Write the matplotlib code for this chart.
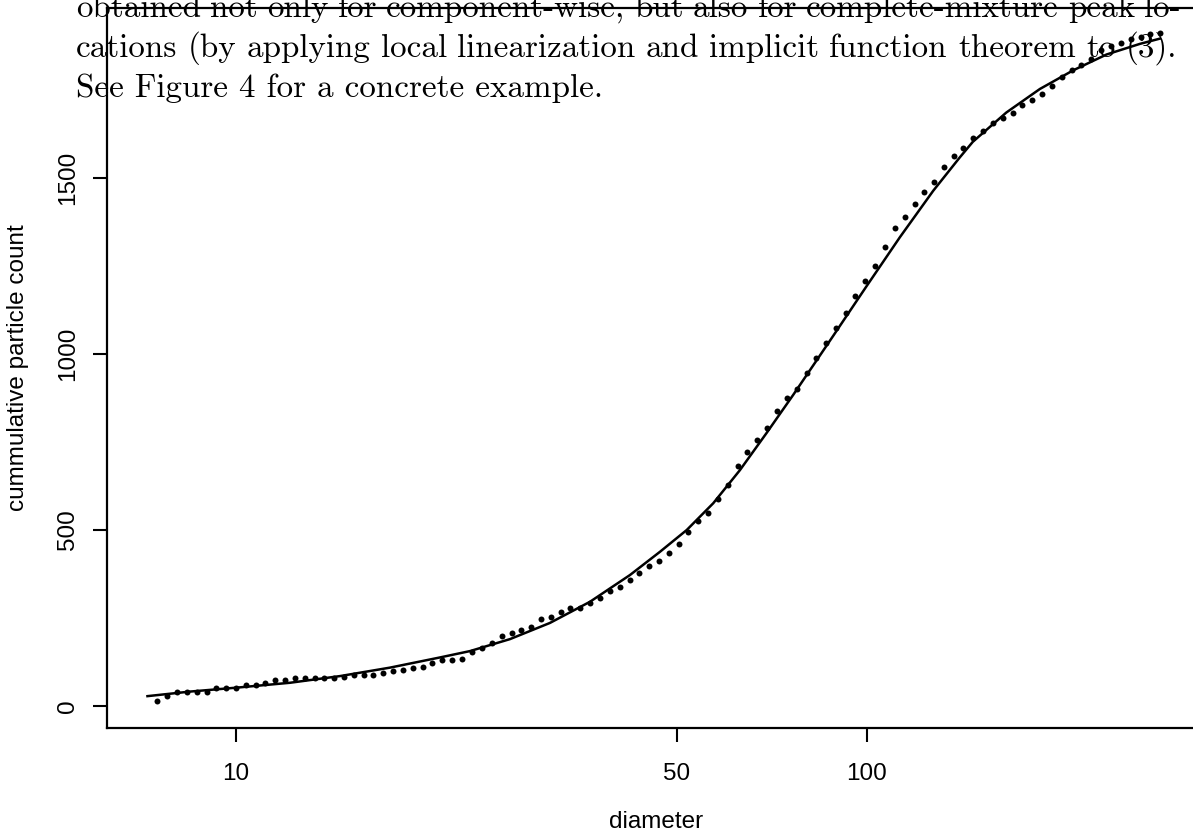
import matplotlib
matplotlib.use("Agg")
import matplotlib.pyplot as plt

# observed cumulative counts (dots)
diameter = [7.50, 7.78, 8.07, 8.36, 8.66, 8.99, 9.31, 9.64, 10.0, 10.36,
            10.75, 11.13, 11.54, 11.97, 12.40, 12.85, 13.33, 13.80, 14.32, 14.83,
            15.38, 15.93, 16.51, 17.12, 17.75, 18.39, 19.06, 19.76, 20.47, 21.23,
            22.02, 22.84, 23.66, 24.52, 25.43, 26.37, 27.35, 28.32, 29.35, 30.44,
            31.53, 32.70, 33.87, 35.13, 36.39, 37.74, 39.15, 40.56, 42.07, 43.57,
            45.19, 46.82, 48.56, 50.30, 52.10, 54.03, 56.04, 58.06, 60.15, 62.39,
            64.61, 66.94, 69.43, 71.93, 74.60, 77.37, 80.24, 83.10, 86.09, 89.29,
            92.51, 95.81, 99.38, 103.1, 106.9, 110.6, 114.7, 119.0, 123.3, 127.9,
            132.5, 137.2, 142.1, 147.4, 152.7, 158.4, 164.1, 170.2, 176.2, 182.8,
            189.6, 196.5, 203.5, 211.1, 218.6, 226.5, 234.9, 243.4, 252.4, 261.8,
            271.5, 281.2, 291.3]
count = [14, 28, 41, 41, 41, 41, 52, 52, 52, 60,
         60, 66, 74, 74, 79, 79, 79, 79, 79, 83,
         88, 88, 88, 93, 99, 102, 109, 112, 123, 131,
         131, 133, 154, 166, 178, 200, 207, 216, 225, 246,
         253, 266, 278, 279, 294, 308, 327, 337, 358, 379,
         399, 413, 434, 459, 494, 526, 547, 588, 628, 683,
         722, 756, 789, 838, 874, 900, 947, 990, 1032, 1074,
         1117, 1165, 1208, 1250, 1304, 1357, 1390, 1425, 1459, 1489,
         1532, 1563, 1586, 1614, 1634, 1657, 1671, 1686, 1707, 1722,
         1738, 1762, 1788, 1807, 1820, 1837, 1864, 1875, 1884, 1894,
         1901, 1908, 1911]

# fitted mixture cdf (line)
fit_d = [7.24, 8.46, 10.15, 12.18, 14.62, 17.54, 21.06, 23.49, 27.18, 31.45,
         36.39, 42.11, 46.98, 51.81, 57.07, 62.90, 69.36, 76.42, 83.23, 88.45,
         99.89, 112.8, 127.4, 140.4, 147.2, 166.3, 188.0, 212.3, 239.8, 270.7,
         291.3]
fit_y = [28, 41, 53, 66, 85, 109, 138, 156, 190, 236,
         296, 372, 438, 500, 576, 670, 776, 884, 982, 1052,
         1193, 1332, 1464, 1559, 1603, 1686, 1753, 1806, 1851, 1881,
         1896]

x_ticks = [10, 50, 100]
y_ticks = [0, 500, 1000, 1500]

paragraph = ["obtained not only for component-wise, but also for complete-mixture peak lo-",
             "cations (by applying local linearization and implicit function theorem to (3).",
             "See Figure 4 for a concrete example."]
line_right = [1181, 1177, None]  # justified lines end here (px)

W, H = 1193, 838
fig = plt.figure(figsize=(W / 100, H / 100), dpi=100)
ax = fig.add_axes([107 / W, 110 / H, 1098 / W, 720 / H])

ax.plot(fit_d, fit_y, color="black", lw=1.8, zorder=2)
ax.plot(diameter, count, "o", color="black", ms=4.3, mec="none", zorder=3)

ax.set_xscale("log")
ax.set_xlim(6.246, 343.4)
ax.set_ylim(-62.5, 1983)
ax.set_xticks(x_ticks)
ax.set_xticklabels([str(t) for t in x_ticks])
ax.minorticks_off()
ax.set_yticks(y_ticks)
ax.set_yticklabels([str(t) for t in y_ticks], rotation=90, va="center")

lab_font = dict(family="Liberation Sans", size=17.5)
for lbl in ax.get_xticklabels() + ax.get_yticklabels():
    lbl.set_fontfamily("Liberation Sans")
    lbl.set_fontsize(17.5)
ax.tick_params(axis="x", direction="out", length=10, width=1.5, pad=15)
ax.tick_params(axis="y", direction="out", length=10, width=1.5, pad=10)
for s in ax.spines.values():
    s.set_linewidth(1.6)

ax.set_xlabel("diameter", fontdict=lab_font)
ax.set_ylabel("cummulative particle count", fontdict=lab_font)
ax.xaxis.set_label_coords(0.5, (728 - 822) / 720)
ax.xaxis.label.set_va("center")
ax.yaxis.set_label_coords((18 - 107) / 1098, 0.5)
ax.yaxis.label.set_va("center")

# page text that sits over the figure (justified like the paper)
renderer = fig.canvas.get_renderer()
x0 = 76
for i, line in enumerate(paragraph):
    y = 1 - (17 + 40 * i) / H
    if line_right[i] is None:
        fig.text(x0 / W, y, line, family="cmr10", fontsize=23.8,
                 va="baseline", ha="left", zorder=5)
        continue
    words = line.split(" ")
    objs = [fig.text(0, y, w, family="cmr10", fontsize=23.8,
                     va="baseline", ha="left", zorder=5) for w in words]
    widths = [t.get_window_extent(renderer).width for t in objs]
    gap = (line_right[i] - x0 - sum(widths)) / (len(words) - 1)
    x = x0
    for t, w in zip(objs, widths):
        t.set_x(x / W)
        x += w + gap

fig.savefig("out.png", dpi=100)
